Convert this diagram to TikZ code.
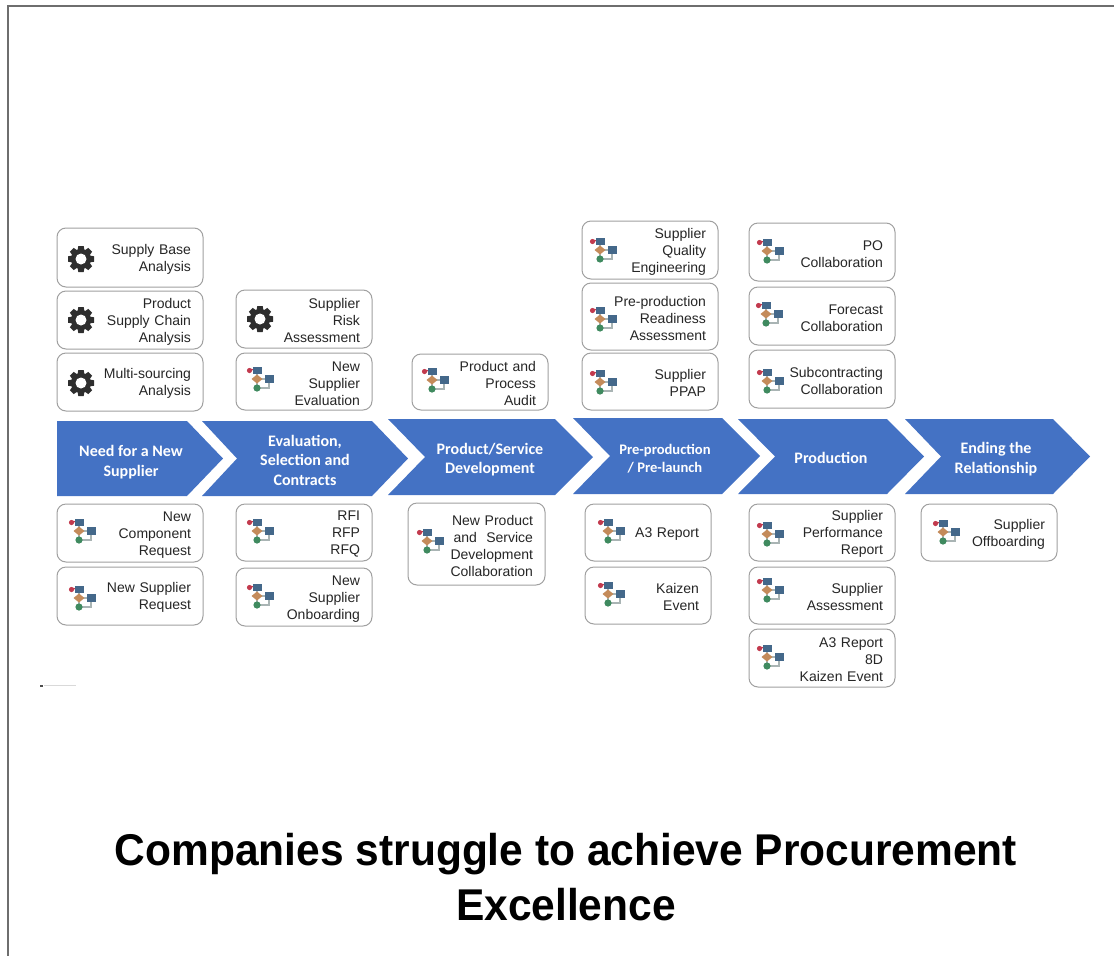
\documentclass[tikz,border=0pt]{standalone}
\usepackage{fontspec}
\setmainfont{Liberation Sans}
\newfontfamily\phasefont{Carlito}
\newfontfamily\headfont[FakeStretch=0.955]{Liberation Sans}
\tikzset{
  taskbox/.style={draw=boxgray,line width=1pt,rounded corners=9pt,fill=white,inner xsep=12pt,inner ysep=0pt,outer sep=0pt,
    align=right,text=black!85,font=\fontsize{14}{17}\selectfont,anchor=north west},
  phaselabel/.style={align=center,text=white,font=\phasefont\bfseries\fontsize{16}{19.5}\selectfont},
  gearicon/.pic={
    \fill[geardark] (0,0) circle (10);
    \foreach \a in {0,45,...,315}
      \fill[geardark,rotate=\a] (8,-3.6) -- (13,-2.7) -- (13,2.7) -- (8,3.6) -- cycle;
    \fill[white] (0,0) circle (5.5);
  },
  flowicon/.pic={
    \draw[linegray,line width=1.1pt] (0,-9) -- (0,9) -- (12,9) -- (12,0) -- (0,0);
    \draw[linered,line width=1.2pt] (-6,-9.5) -- (0,-9);
    \fill[linered] (-7.5,-8.5) circle (2.6);
    \fill[boxblue] (-4,-12.5) rectangle (4.5,-5.5);
    \fill[boxblue] (8,-3.8) rectangle (16.5,3.8);
    \fill[diamondtan] (-5.5,0) -- (0,-4.5) -- (5.5,0) -- (0,4.5) -- cycle;
    \fill[circlegreen] (0,9) circle (3.6);
  }
}
\definecolor{boxgray}{HTML}{A0A0A0}
\definecolor{framegray}{HTML}{6E6E6E}
\definecolor{geardark}{HTML}{2E2E2E}
\definecolor{linegray}{HTML}{A9B4B4}
\definecolor{linered}{HTML}{C23A4E}
\definecolor{boxblue}{HTML}{44688A}
\definecolor{diamondtan}{HTML}{C48B5A}
\definecolor{circlegreen}{HTML}{3F8A5F}
\definecolor{phaseblue}{HTML}{4472C4}
\begin{document}
\begin{tikzpicture}[x=1pt,y=-1pt]
\useasboundingbox (0,0) rectangle (1114,956);
\draw[framegray,line width=1.5pt] (8,956) -- (8,6) -- (1114,6);
% phases
\foreach \name/\xa/\xn/\xb/\xt/\ya/\yb in {
  need/57/57/187/223/421/496,
  evaluation/202/237/372/408/421/496,
  development/388/425/555/593/419/495,
  prelaunch/573/610/722/760/418/494,
  production/738/775/887/924/419/494,
  ending/905/941/1053/1090/419/494}
  \fill[phaseblue] (\xa,\ya) -- (\xb,\ya) -- (\xt,{(\ya+\yb)/2}) -- (\xb,\yb) -- (\xa,\yb) -- (\xn,{(\ya+\yb)/2}) -- cycle;
\node[phaselabel] (needlabel) at (131,462) {Need for a New\\Supplier};
\node[phaselabel] (evaluationlabel) at (305,460) {Evaluation,\\Selection and\\Contracts};
\node[phaselabel] (developmentlabel) at (490,459.5) {Product/Service\\Development};
\node[phaselabel,font=\phasefont\bfseries\fontsize{14.6}{18}\selectfont] (prelaunchlabel) at (665,458.5) {Pre-production\\/ Pre-launch};
\node[phaselabel] (productionlabel) at (831,458) {Production};
\node[phaselabel] (endinglabel) at (996,459) {Ending the\\Relationship};
% boxes with a gear
\foreach \name/\xa/\ya/\xb/\yb/\ix/\iy/\txt in {
  supplybase/57/228/203/287/81/259/{Supply Base\\Analysis},
  supplychain/57/291/203/349/81/320/{Product\\Supply Chain\\Analysis},
  multisourcing/57/353/203/411/81/383/{Multi-sourcing\\Analysis},
  supplierrisk/236/290/372/348/260/319/{Supplier\\Risk\\Assessment}}
{
  \pgfmathsetmacro{\bw}{\xb-\xa}
  \pgfmathsetmacro{\bh}{\yb-\ya}
  \pgfmathsetmacro{\tw}{\xb-\xa-24}
  \node[taskbox,minimum width=\bw pt,minimum height=\bh pt,text width=\tw pt] (\name) at (\xa,\ya) {\rule{0pt}{13.5pt}\txt};
  \pic at (\ix,\iy) {gearicon};
}
% boxes with a process flow
\foreach \name/\xa/\ya/\xb/\yb/\ix/\iy/\txt in {
  newevaluation/236/353/372/410/257/379/{New\\Supplier\\Evaluation},
  processaudit/412/354/548/410/432/380/{Product and\\Process\\Audit},
  qualityeng/582/221/718/279/600/250/{Supplier\\Quality\\Engineering},
  readiness/582/283/718/350/600/319/{Pre-production\\Readiness\\Assessment},
  ppap/582/353/718/410/600/382/{Supplier\\PPAP},
  pocollab/749/223/895/281/767/251/{PO\\Collaboration},
  forecast/749/287/895/345/766/314/{Forecast\\Collaboration},
  subcontract/749/350/895/408/767/381/{Subcontracting\\Collaboration},
  newcomponent/57/504/203/562/79/531/{New\\Component\\Request},
  newsupplier/57/567/203/625/79/598/{New Supplier\\Request},
  rfx/236/504/372/561/257/531/{RFI\\RFP\\RFQ},
  onboarding/236/568/372/626/257/596/{New\\Supplier\\Onboarding},
  newproduct/408/503/545/585/427/541/{New Product\\and\ \ Service\\Development\\Collaboration},
  athree/585/504/711/561/608/531/{A3 Report},
  kaizen/585/567/711/624/608/594/{Kaizen\\Event},
  performance/749/504/895/561/767/534/{Supplier\\Performance\\Report},
  assessment/749/567/895/624/767/590/{Supplier\\Assessment},
  eightd/749/629/895/687/767/657/{A3 Report\\8D\\Kaizen Event},
  offboarding/921/504/1057/561/943/532/{Supplier\\Offboarding}}
{
  \pgfmathsetmacro{\bw}{\xb-\xa}
  \pgfmathsetmacro{\bh}{\yb-\ya}
  \pgfmathsetmacro{\tw}{\xb-\xa-24}
  \node[taskbox,minimum width=\bw pt,minimum height=\bh pt,text width=\tw pt] (\name) at (\xa,\ya) {\rule{0pt}{13.5pt}\txt};
  \pic at (\ix,\iy) {flowicon};
}
\fill[black!70] (40,684.5) rectangle (43,686.5);
\fill[black!15] (44,685) rectangle (76,686);
\node[font=\headfont\bfseries\fontsize{44.5}{55}\selectfont,align=center] (headline) at (566,877) {Companies struggle to achieve Procurement\\Excellence};
\end{tikzpicture}
\end{document}
